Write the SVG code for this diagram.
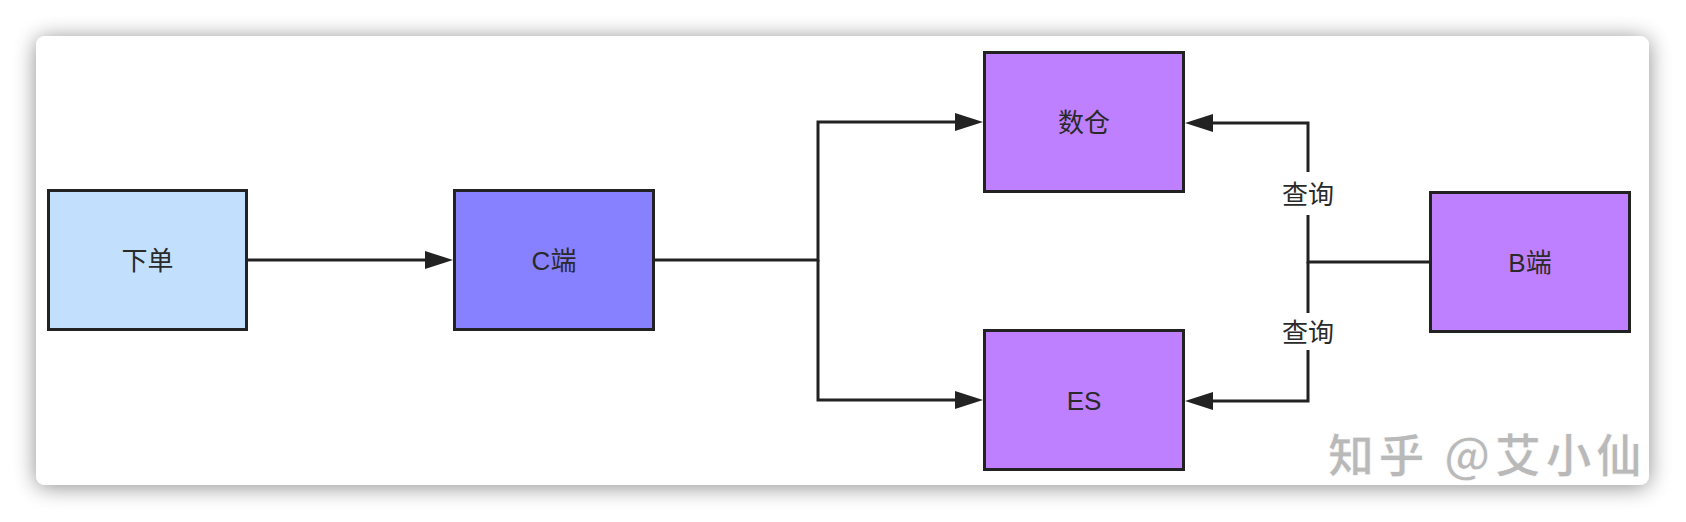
<svg xmlns="http://www.w3.org/2000/svg" width="1686" height="522" viewBox="0 0 1686 522">
  <style>
    .node rect { stroke: #222222; stroke-width: 3; }
    .label { font-family: "Liberation Sans", "Noto Sans CJK SC", sans-serif; font-size: 26px; fill: #2a2a2a; text-anchor: middle; dominant-baseline: central; }
    .conn { fill: none; stroke: #222222; stroke-width: 3; }
    .edge-label-bg { fill: #ffffff; }
    .wm { font-family: "Noto Sans CJK SC", "Liberation Sans", sans-serif; font-size: 46px; font-weight: bold; fill: #b9b9b9; stroke: #ffffff; stroke-width: 0.8; }
  </style>
  <defs>
    <filter id="shadow" x="-10%" y="-20%" width="120%" height="140%">
      <feGaussianBlur in="SourceAlpha" stdDeviation="11"/>
      <feOffset dx="0" dy="2" result="b"/>
      <feComponentTransfer><feFuncA type="linear" slope="0.45"/></feComponentTransfer>
      <feMerge><feMergeNode/><feMergeNode in="SourceGraphic"/></feMerge>
    </filter>
    <marker id="arrow" markerUnits="userSpaceOnUse" markerWidth="28" markerHeight="18" refX="16" refY="9" orient="auto">
      <path d="M0,0 L28,9 L0,18 Z" fill="#222222"/>
    </marker>
  </defs>

  <rect x="0" y="0" width="1686" height="522" fill="#ffffff"/>
  <rect x="36" y="36" width="1613" height="449" rx="9" fill="#ffffff" filter="url(#shadow)"/>

  <g id="connectors">
    <path class="conn" d="M248,260 H441" marker-end="url(#arrow)"/>
    <path class="conn" d="M655,260 H818 V122 H971" marker-end="url(#arrow)"/>
    <path class="conn" d="M818,260 V400 H971" marker-end="url(#arrow)"/>
    <path class="conn" d="M1429,262 H1308 V123 H1197" marker-end="url(#arrow)"/>
    <path class="conn" d="M1308,262 V401 H1197" marker-end="url(#arrow)"/>
    <g id="edge-labels">
      <rect class="edge-label-bg" x="1282" y="172" width="52" height="43"/>
      <text class="label" x="1308" y="195">查询</text>
      <rect class="edge-label-bg" x="1282" y="313" width="52" height="37"/>
      <text class="label" x="1308" y="333">查询</text>
    </g>
  </g>

  <g id="node-xiadan" class="node">
    <rect x="48.5" y="190.5" width="198" height="139" fill="#c2e0fd"/>
    <text class="label" x="147.5" y="261">下单</text>
  </g>
  <g id="node-cduan" class="node">
    <rect x="454.5" y="190.5" width="199" height="139" fill="#8781ff"/>
    <text class="label" x="554" y="261">C端</text>
  </g>
  <g id="node-shucang" class="node">
    <rect x="984.5" y="52.5" width="199" height="139" fill="#bf80ff"/>
    <text class="label" x="1084" y="123">数仓</text>
  </g>
  <g id="node-es" class="node">
    <rect x="984.5" y="330.5" width="199" height="139" fill="#bf80ff"/>
    <text class="label" x="1084" y="401">ES</text>
  </g>
  <g id="node-bduan" class="node">
    <rect x="1430.5" y="192.5" width="199" height="139" fill="#bf80ff"/>
    <text class="label" x="1530" y="263">B端</text>
  </g>

  <text class="wm" x="1328" y="472" textLength="314" lengthAdjust="spacing">知乎 @艾小仙</text>
</svg>
